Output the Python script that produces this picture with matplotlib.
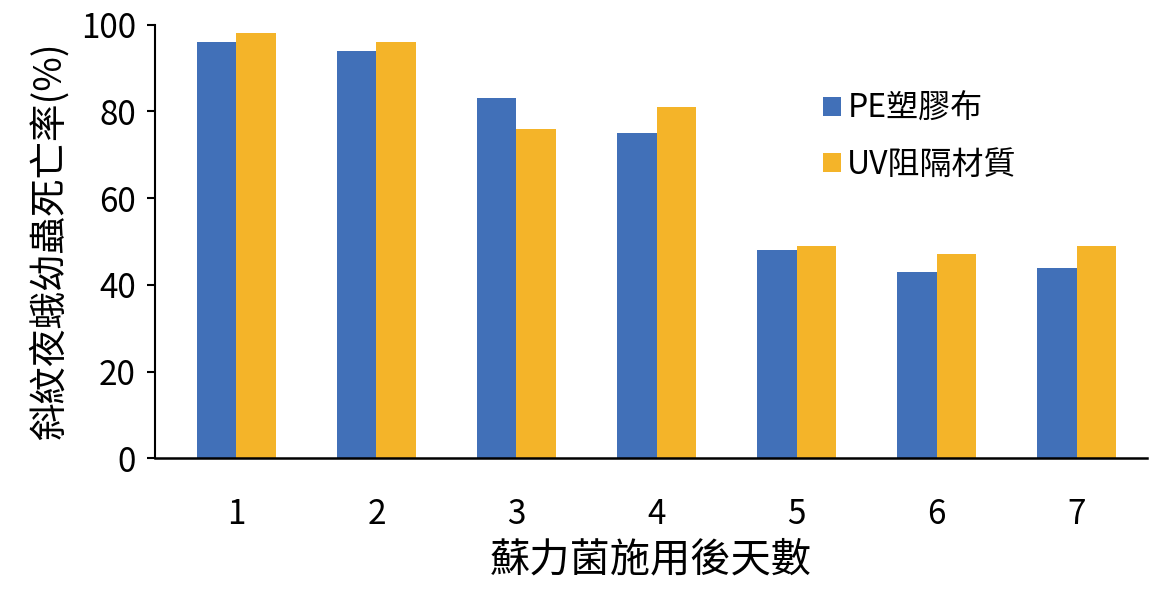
import matplotlib.pyplot as plt
import numpy as np

plt.rcParams['font.family'] = ['Noto Sans CJK TC', 'DejaVu Sans']

days = [1, 2, 3, 4, 5, 6, 7]
pe = [96, 94, 83, 75, 48, 43, 44]
uv = [98, 96, 76, 81, 49, 47, 49]

blue = '#4170b8'
orange = '#f4b429'

fig = plt.figure(figsize=(11.5, 5.89), dpi=100)
ax = fig.add_axes([0.135, 0.222, 0.862, 0.736])

x = np.array(days)
w = 0.285
ax.bar(x - w / 2, pe, w, color=blue, label='PE塑膠布')
ax.bar(x + w / 2, uv, w, color=orange, label='UV阻隔材質')

ax.set_xlim(0.42, 7.5)
ax.set_ylim(0, 100)
ax.set_yticks([0, 20, 40, 60, 80, 100])
ax.set_xticks(days)
ax.tick_params(axis='y', labelsize=24, length=6, width=1.5, pad=8)
ax.tick_params(axis='x', labelsize=24, length=0, pad=28)

for s in ['top', 'right']:
    ax.spines[s].set_visible(False)
ax.spines['left'].set_linewidth(1.5)
ax.spines['bottom'].set_linewidth(1.8)

ax.set_ylabel('斜紋夜蛾幼蟲死亡率(%)', fontsize=27, labelpad=8)
ax.set_xlabel('蘇力菌施用後天數', fontsize=29, labelpad=5)

ax.legend(loc='upper left', bbox_to_anchor=(0.645, 0.91), frameon=False,
          fontsize=23, handlelength=0.55, handleheight=0.55, handletextpad=0.2,
          labelspacing=0.75)

fig.savefig('out.png', dpi=100)
